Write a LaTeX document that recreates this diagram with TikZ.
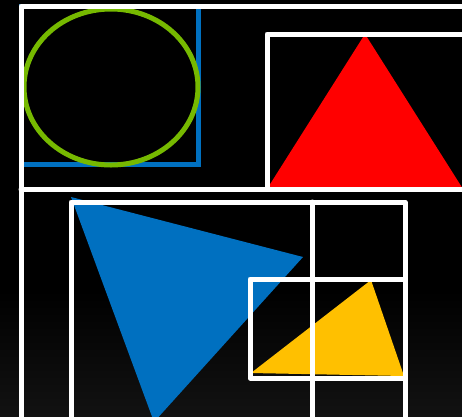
\documentclass[tikz,border=0pt]{standalone}
\usepackage{tikz}
\definecolor{boxblue}{HTML}{0070C0}
\definecolor{ringgreen}{HTML}{76B900}
\definecolor{tipred}{HTML}{FF0000}
\definecolor{wedgeyellow}{HTML}{FFC000}
\definecolor{floorgray}{HTML}{121212}

\begin{document}
\begin{tikzpicture}[
        x=1pt, y=-1pt,
        frame/.style={draw=white, line width=5pt, line join=round, line cap=round},
        outline/.style={line width=4.5pt},
        piece/.style={draw=none}
    ]
        \useasboundingbox (0,0) rectangle (462,416);
        \clip (0,0) rectangle (462,416);

        % Background
        \fill[black] (0,0) rectangle (462,416);
        \shade[top color=black, bottom color=floorgray] (0,290) rectangle (462,416);

        % Square and circle
        \draw[outline, boxblue] (21,6) rectangle (198.5,164.5);
        \draw[outline, ringgreen, line width=5pt] (111,87) ellipse [x radius=87, y radius=78];

        % Triangles
        \fill[piece, tipred] (267,189) -- (365,34) -- (463,189) -- cycle;
        \fill[piece, boxblue] (71,197) -- (303,257) -- (154,422) -- cycle;
        \fill[piece, wedgeyellow] (251,373) -- (371,280) -- (404,376) -- cycle;

        % Outer frames
        \draw[frame] (21,430) |- (470,6);
        \draw[frame] (21,189) -- (470,189);
        \draw[frame] (267,189) |- (470,34);

        % Lower frames
        \draw[frame] (71,430) |- (405,202) -- (405,430);
        \draw[frame] (312,202) -- (312,430);
        \draw[frame] (405,279) -- (250,279) -- (250,378) -- (405,378);
    \end{tikzpicture}
\end{document}
